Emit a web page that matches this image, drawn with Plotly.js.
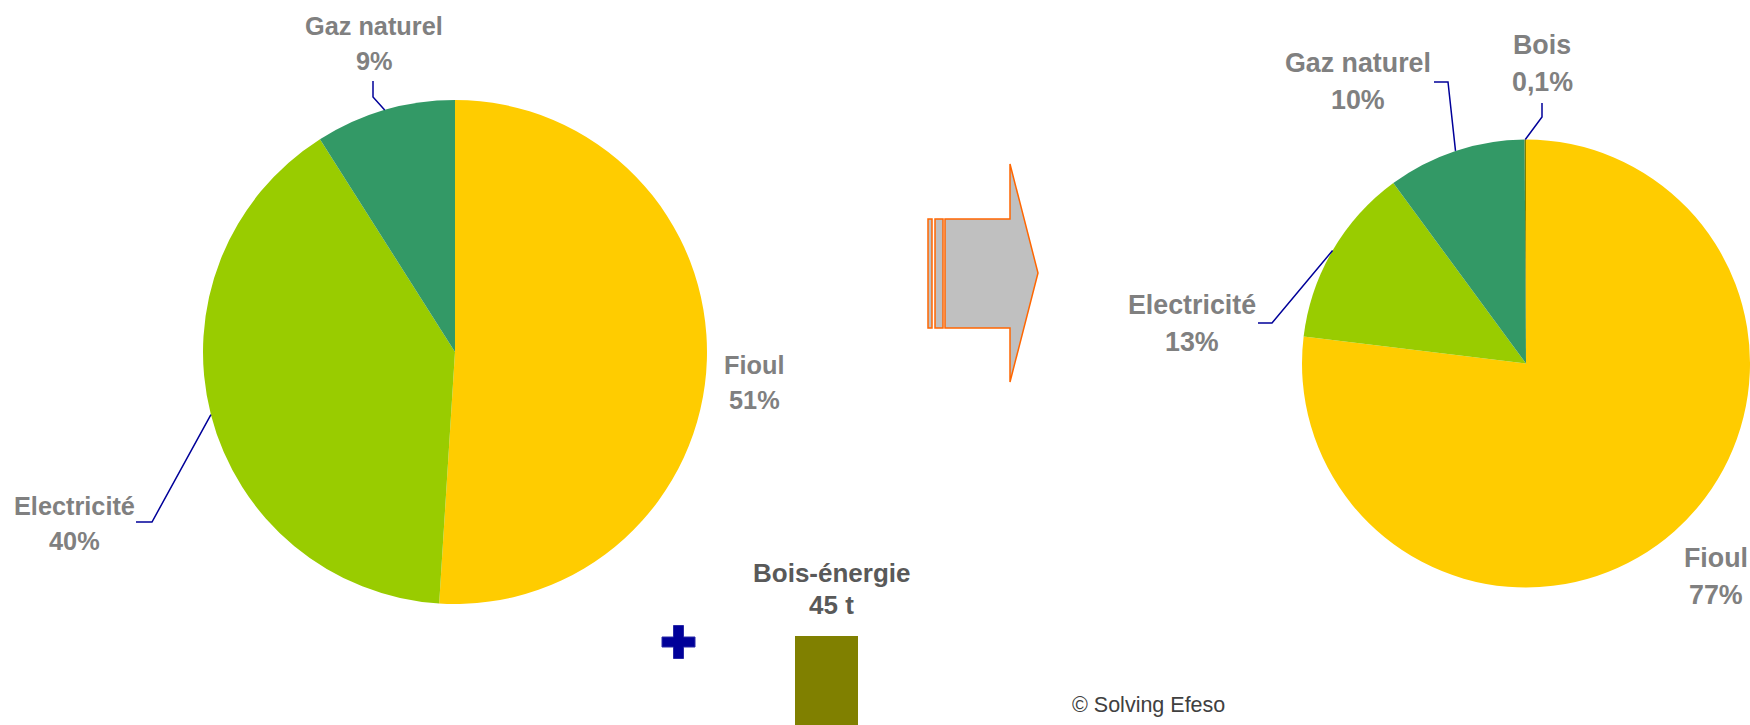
<!DOCTYPE html>
<html>
<head>
<meta charset="utf-8">
<script src="https://cdn.plot.ly/plotly-3.0.1.min.js"></script>
<style>html,body{margin:0;padding:0;background:#fff;}#chart{width:1750px;height:725px;}</style>
</head>
<body>
<div id="chart"></div>
<script>
// ---------- DATA ----------
const leftLabels = ['Fioul', 'Electricité', 'Gaz naturel'];
const leftValues = [51, 40, 9];
const leftTexts = ['51%', '40%', '9%'];

const rightLabels = ['Fioul', 'Electricité', 'Gaz naturel', 'Bois'];
const rightValues = [77, 13, 10, 0.1];
const rightTexts = ['77%', '13%', '10%', '0,1%'];

const barCategories = ['Bois-énergie'];
const barValues = [45];
const barUnit = 't';

const copyrightText = '© Solving Efeso';

// ---------- STYLE / LAYOUT ----------
const W = 1750, H = 725;
const FONT = 'Liberation Sans, Arial, sans-serif';
const sliceColors = {'Fioul': '#FFCC00', 'Electricité': '#99CC00', 'Gaz naturel': '#339966', 'Bois': '#808000'};
const labelColor = '#808080';
const leaderColor = '#000099';

function px(x) { return x / W; }
function py(y) { return 1 - y / H; }

const pies = [
  {
    labels: leftLabels, values: leftValues, texts: leftTexts,
    cx: 455, cy: 352, r: 252, fontSize: 25.3, gap: 35,
    labelPos: {'Fioul': [754, 365], 'Electricité': [74, 506], 'Gaz naturel': [374, 26]},
    leaders: {'Electricité': [[136, 522], [152, 522]], 'Gaz naturel': [[373, 81], [373, 97]]}
  },
  {
    labels: rightLabels, values: rightValues, texts: rightTexts,
    cx: 1526, cy: 363.5, r: 224, fontSize: 26.8, gap: 37,
    labelPos: {'Fioul': [1716, 558], 'Electricité': [1192, 305], 'Gaz naturel': [1358, 63], 'Bois': [1542, 45]},
    leaders: {'Electricité': [[1258, 323], [1272, 323]], 'Gaz naturel': [[1434, 82], [1448, 82]], 'Bois': [[1542, 103], [1542, 117]]}
  }
];

const traces = [];
const annotations = [];
const shapes = [];

pies.forEach(p => {
  traces.push({
    type: 'pie',
    labels: p.labels,
    values: p.values,
    sort: false,
    direction: 'clockwise',
    rotation: 0,
    textinfo: 'none',
    hoverinfo: 'skip',
    marker: {colors: p.labels.map(l => sliceColors[l]), line: {width: 0}},
    domain: {x: [px(p.cx - p.r), Math.min(1, px(p.cx + p.r))], y: [py(p.cy + p.r), py(p.cy - p.r)]},
    showlegend: false
  });
  const total = p.values.reduce((a, b) => a + b, 0);
  let cum = 0;
  p.labels.forEach((lab, i) => {
    const mid = (cum + p.values[i] / 2) / total * 2 * Math.PI;
    cum += p.values[i];
    const pos = p.labelPos[lab];
    annotations.push({
      xref: 'paper', yref: 'paper', x: px(pos[0]), y: py(pos[1]),
      xanchor: 'center', yanchor: 'middle', showarrow: false,
      text: '<b>' + lab + '</b>',
      font: {family: FONT, size: p.fontSize, color: labelColor}
    });
    annotations.push({
      xref: 'paper', yref: 'paper', x: px(pos[0]), y: py(pos[1] + p.gap),
      xanchor: 'center', yanchor: 'middle', showarrow: false,
      text: '<b>' + p.texts[i] + '</b>',
      font: {family: FONT, size: p.fontSize, color: labelColor}
    });
    const ld = p.leaders[lab];
    if (ld) {
      const ex = p.cx + p.r * Math.sin(mid);
      const ey = p.cy - p.r * Math.cos(mid);
      const pts = ld.concat([[ex, ey]]);
      shapes.push({
        type: 'path', xref: 'paper', yref: 'paper',
        path: pts.map((q, k) => (k ? 'L' : 'M') + px(q[0]) + ',' + py(q[1])).join(' '),
        line: {color: leaderColor, width: 1.5}
      });
    }
  });
});

// Bar (Bois-énergie)
const barLeft = 795, barRight = 858, barAxisTop = 560, barTopPx = 636;
traces.push({
  type: 'bar', x: barCategories, y: barValues, width: 1,
  marker: {color: '#808000', line: {width: 0}},
  hoverinfo: 'skip', showlegend: false, xaxis: 'x', yaxis: 'y'
});
annotations.push({
  xref: 'x', yref: 'paper', x: barCategories[0], xshift: 5, y: py(573),
  xanchor: 'center', yanchor: 'middle', showarrow: false,
  text: '<b>' + barCategories[0] + '</b>',
  font: {family: FONT, size: 26, color: '#595959'}
});
annotations.push({
  xref: 'x', yref: 'paper', x: barCategories[0], xshift: 5, y: py(605),
  xanchor: 'center', yanchor: 'middle', showarrow: false,
  text: '<b>' + barValues[0] + ' ' + barUnit + '</b>',
  font: {family: FONT, size: 26, color: '#595959'}
});

// Copyright
annotations.push({
  xref: 'paper', yref: 'paper', x: px(1148), y: py(705),
  xanchor: 'center', yanchor: 'middle', showarrow: false,
  text: copyrightText,
  font: {family: FONT, size: 21.5, color: '#404040'}
});

// Arrow
function pathOf(pts) { return pts.map((q, k) => (k ? 'L' : 'M') + px(q[0]) + ',' + py(q[1])).join(' ') + ' Z'; }
shapes.push({
  type: 'path', xref: 'paper', yref: 'paper',
  path: pathOf([[945, 219], [1010, 219], [1010, 164], [1038, 273], [1010, 382], [1010, 328], [945, 328]]),
  fillcolor: '#C0C0C0', line: {color: '#FF6600', width: 1.5}
});
[[928, 932], [935, 943]].forEach(s => {
  shapes.push({
    type: 'rect', xref: 'paper', yref: 'paper',
    x0: px(s[0]), x1: px(s[1]), y0: py(328), y1: py(219),
    fillcolor: '#C0C0C0', line: {color: '#FF6600', width: 1.5}
  });
});

// Plus sign
const pc = [678.5, 642], ph = 16.5, pt = 5;
shapes.push({
  type: 'path', xref: 'paper', yref: 'paper',
  path: pathOf([
    [pc[0] - pt, pc[1] - ph], [pc[0] + pt, pc[1] - ph], [pc[0] + pt, pc[1] - pt], [pc[0] + ph, pc[1] - pt],
    [pc[0] + ph, pc[1] + pt], [pc[0] + pt, pc[1] + pt], [pc[0] + pt, pc[1] + ph], [pc[0] - pt, pc[1] + ph],
    [pc[0] - pt, pc[1] + pt], [pc[0] - ph, pc[1] + pt], [pc[0] - ph, pc[1] - pt], [pc[0] - pt, pc[1] - pt]
  ]),
  fillcolor: '#000099', line: {color: '#2a2aa8', width: 1}
});

const layout = {
  width: W, height: H,
  margin: {l: 0, r: 0, t: 0, b: 0, pad: 0},
  paper_bgcolor: '#FFFFFF', plot_bgcolor: 'rgba(0,0,0,0)',
  showlegend: false,
  font: {family: FONT},
  xaxis: {domain: [px(barLeft), px(barRight)], range: [-0.5, 0.5], visible: false, fixedrange: true},
  yaxis: {domain: [0, py(barAxisTop)], range: [0, barValues[0] * (H - barAxisTop) / (H - barTopPx)], visible: false, fixedrange: true},
  annotations: annotations,
  shapes: shapes
};

Plotly.newPlot('chart', traces, layout, {displayModeBar: false, staticPlot: true});
</script>
</body>
</html>
